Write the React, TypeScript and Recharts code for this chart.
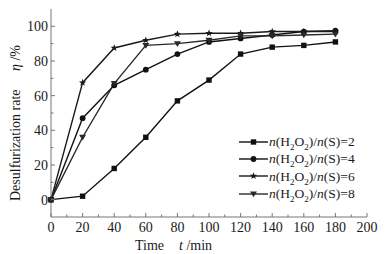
import React from "react";
import { LineChart, Line, XAxis, YAxis, Legend } from "recharts";

// reaction time, min
const times = [0, 20, 40, 60, 80, 100, 120, 140, 160, 180];
// desulfurization rate η, % for each n(H2O2)/n(S) ratio
const ratio2 = [0, 2, 18, 36, 57, 69, 84, 88, 89, 91];
const ratio4 = [0, 47, 66, 75, 84, 91, 93, 95, 97, 97.5];
const ratio6 = [0, 67.5, 87.5, 92, 95.5, 96, 96, 97, 97, 97];
const ratio8 = [0, 36, 67, 89, 90, 92, 94.5, 94.5, 95, 95.5];

const xTicks = [0, 10, 20, 30, 40, 50, 60, 70, 80, 90, 100, 110, 120, 130, 140, 150, 160, 170, 180, 190, 200];
const yTicks = [0, 10, 20, 30, 40, 50, 60, 70, 80, 90, 100];

const data = times.map((t, i) => ({
  t,
  r2: ratio2[i],
  r4: ratio4[i],
  r6: ratio6[i],
  r8: ratio8[i],
}));

const series = [
  { key: "r2", ratio: "2", shape: "square", color: "#111" },
  { key: "r4", ratio: "4", shape: "circle", color: "#111" },
  { key: "r6", ratio: "6", shape: "star", color: "#1a1a1a" },
  { key: "r8", ratio: "8", shape: "down", color: "#2a2a2a" },
];

const FONT = "'Liberation Serif', 'Times New Roman', serif";
const AXIS = "#777";
const TXT = "#1a1a1a";

function starPath(cx: number, cy: number, R: number) {
  const r = R * 0.42;
  let d = "";
  for (let i = 0; i < 10; i++) {
    const a = -Math.PI / 2 + (i * Math.PI) / 5;
    const rr = i % 2 === 0 ? R : r;
    d += (i === 0 ? "M" : "L") + (cx + rr * Math.cos(a)).toFixed(2) + "," + (cy + rr * Math.sin(a)).toFixed(2);
  }
  return d + "Z";
}

function Marker({ shape, cx, cy, color }: { shape: string; cx: number; cy: number; color: string }) {
  if (shape === "square") return <rect x={cx - 2.7} y={cy - 2.7} width={5.4} height={5.4} fill={color} />;
  if (shape === "circle") return <circle cx={cx} cy={cy} r={2.9} fill={color} />;
  if (shape === "star") return <path d={starPath(cx, cy, 3.8)} fill={color} />;
  return <path d={`M${cx - 3.5},${cy - 2.5}L${cx + 3.5},${cy - 2.5}L${cx},${cy + 3.3}Z`} fill={color} />;
}

const XTick = (props: any) => {
  const { x, y, payload } = props;
  const major = payload.value % 20 === 0;
  return (
    <g>
      <line x1={x} x2={x} y1={y} y2={y - (major ? 4 : 2.5)} stroke={AXIS} />
      {major && (
        <text x={x} y={y + 15} textAnchor="middle" fontFamily={FONT} fontSize={14} fill={TXT}>
          {payload.value}
        </text>
      )}
    </g>
  );
};

const YTick = (props: any) => {
  const { x, y, payload } = props;
  const major = payload.value % 20 === 0;
  return (
    <g>
      <line x1={x} x2={x + (major ? 4 : 2.5)} y1={y} y2={y} stroke={AXIS} />
      {major && (
        <text x={x - 3} y={y + 5} textAnchor="end" fontFamily={FONT} fontSize={14} fill={TXT}>
          {payload.value}
        </text>
      )}
    </g>
  );
};

const RatioText = ({ ratio }: { ratio: string }) => (
  <span style={{ fontFamily: FONT, fontSize: 13.5, color: TXT, whiteSpace: "nowrap", lineHeight: "15px" }}>
    <i>n</i>(H<sub style={{ fontSize: 9, lineHeight: 0 }}>2</sub>O<sub style={{ fontSize: 9, lineHeight: 0 }}>2</sub>)/<i>n</i>(S)={ratio}
  </span>
);

const LegendBox = () => (
  <div style={{ display: "flex", flexDirection: "column", gap: 2 }}>
    {series.map((s) => (
      <div key={s.key} style={{ display: "flex", alignItems: "center", height: 15.3 }}>
        <svg width={29} height={10} style={{ marginRight: 1 }}>
          <line x1={0} x2={29} y1={5} y2={5} stroke={s.color} strokeWidth={1.4} />
          <Marker shape={s.shape} cx={14.5} cy={5} color={s.color} />
        </svg>
        <RatioText ratio={s.ratio} />
      </div>
    ))}
  </div>
);

const XLabel = (props: any) => {
  const { x, y } = props.viewBox;
  return (
    <text y={y + 33} fontFamily={FONT} fontSize={14} fill={TXT}>
      <tspan x={x + 84}>Time</tspan>
      <tspan x={x + 128} fontStyle="italic">t</tspan>
      <tspan> /min</tspan>
    </text>
  );
};

const YLabel = (props: any) => (
  <text transform="translate(20,201) rotate(-90)" fontFamily={FONT} fontSize={14} fill={TXT}>
    <tspan x={0} y={0}>Desulfurization rate</tspan>
    <tspan x={130} fontStyle="italic">η</tspan>
    <tspan> /%</tspan>
  </text>
);

export default function App() {
  return (
    <div style={{ position: "absolute", left: 0, top: 0, width: 386, height: 254, background: "#fff" }}>
      <LineChart width={386} height={254} data={data} margin={{ top: 9, right: 19, bottom: 0, left: 0 }}>
        <XAxis
          dataKey="t"
          type="number"
          domain={[0, 200]}
          ticks={xTicks}
          interval={0}
          height={37}
          tickSize={0}
          tickMargin={0}
          tick={<XTick />}
          tickLine={false}
          axisLine={{ stroke: AXIS }}
          label={{ content: (p: any) => <XLabel {...p} /> }}
        />
        <XAxis xAxisId="top" orientation="top" type="number" domain={[0, 200]} height={0} tick={false} tickLine={false} axisLine={{ stroke: AXIS }} />
        <YAxis
          type="number"
          domain={[-10, 110]}
          ticks={yTicks}
          interval={0}
          width={51}
          tickSize={0}
          tickMargin={0}
          tick={<YTick />}
          tickLine={false}
          axisLine={{ stroke: AXIS }}
          label={{ content: (p: any) => <YLabel {...p} /> }}
        />
        <YAxis yAxisId="right" orientation="right" domain={[-10, 110]} width={0} tick={false} tickLine={false} axisLine={{ stroke: AXIS }} />
        {series.map((s) => (
          <Line
            key={s.key}
            dataKey={s.key}
            stroke={s.color}
            strokeWidth={1.4}
            isAnimationActive={false}
            dot={(p: any) => <Marker key={`${s.key}-${p.index}`} shape={s.shape} cx={p.cx} cy={p.cy} color={s.color} />}
            activeDot={false}
          />
        ))}
        <Legend
          layout="horizontal"
          verticalAlign="middle"
          align="center"
          content={<LegendBox />}
          wrapperStyle={{ position: "absolute", left: 239, top: 134, width: 140 }}
        />
      </LineChart>
    </div>
  );
}
